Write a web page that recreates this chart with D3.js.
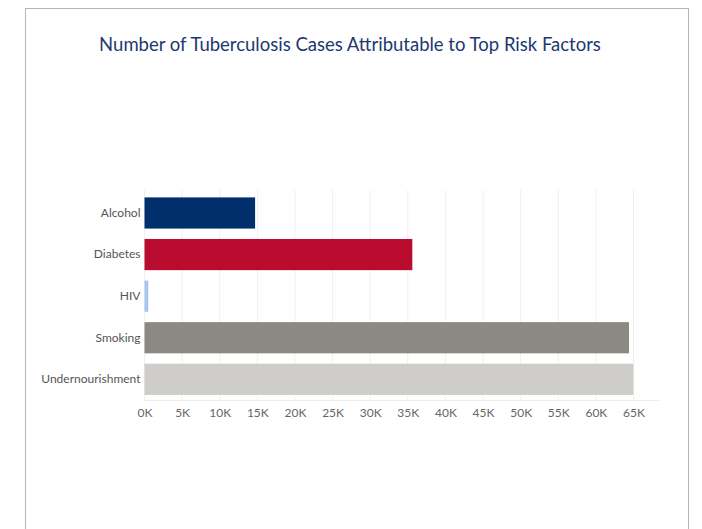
<!DOCTYPE html>
<html>
<head>
<meta charset="utf-8">
<script src="https://cdn.jsdelivr.net/npm/d3@7"></script>
<style>
  html, body { margin: 0; padding: 0; background: #fff; }
  svg { display: block; }
</style>
</head>
<body>
<script>
const categories = ["Alcohol", "Diabetes", "HIV", "Smoking", "Undernourishment"];
const values = [14700, 35600, 500, 64400, 65000];
const colors = ["#002F6C", "#BA0C2F", "#A7C6ED", "#8C8985", "#CFCDC9"];
const tickValues = [0, 5000, 10000, 15000, 20000, 25000, 30000, 35000, 40000, 45000, 50000, 55000, 60000, 65000];
const titleText = "Number of Tuberculosis Cases Attributable to Top Risk Factors";

const W = 702, H = 529;
const svg = d3.select("body").append("svg").attr("width", W).attr("height", H);
const font = "Lato, 'Open Sans', sans-serif";

// frame
svg.append("rect").attr("x", 25.5).attr("y", 8.5).attr("width", 663).attr("height", 530)
  .attr("fill", "#fff").attr("stroke", "#b5b5b5").attr("stroke-width", 1);

svg.append("text").attr("x", 350).attr("y", 51).attr("text-anchor", "middle")
  .attr("font-family", font).attr("font-size", 18.5).attr("fill", "#1d3870")
  .text(titleText);

const x = d3.scaleLinear().domain([0, 65000]).range([144.5, 633.5]);
const y = d3.scaleBand().domain(categories).range([187, 405.3]).paddingInner(0.25).paddingOuter(0.25);

// gridlines
svg.append("g").selectAll("line").data(tickValues).join("line")
  .attr("x1", d => x(d)).attr("x2", d => x(d))
  .attr("y1", 190).attr("y2", 400)
  .attr("stroke", "#f0f0f0").attr("stroke-width", 1);

// baseline
svg.append("line").attr("x1", 144).attr("x2", 660).attr("y1", 400.5).attr("y2", 400.5)
  .attr("stroke", "#eeeeee").attr("stroke-width", 1);

// bars
svg.append("g").selectAll("rect").data(categories).join("rect")
  .attr("x", x(0))
  .attr("y", d => y(d))
  .attr("width", (d, i) => x(values[i]) - x(0))
  .attr("height", y.bandwidth())
  .attr("fill", (d, i) => colors[i]);

// x axis
const xAxis = d3.axisBottom(x).tickValues(tickValues).tickSize(0).tickPadding(0)
  .tickFormat(d => (d / 1000) + "K");
const gx = svg.append("g").attr("transform", "translate(0,417)").call(xAxis);
gx.select(".domain").remove();
gx.selectAll("text").attr("font-family", font).attr("font-size", 12).attr("fill", "#666").attr("dy", 0);

// y axis
const yAxis = d3.axisLeft(y).tickSize(0).tickPadding(4);
const gy = svg.append("g").attr("transform", `translate(${x(0)},0)`).call(yAxis);
gy.select(".domain").remove();
gy.selectAll("text").attr("font-family", font).attr("font-size", 12).attr("fill", "#555");
</script>
</body>
</html>
